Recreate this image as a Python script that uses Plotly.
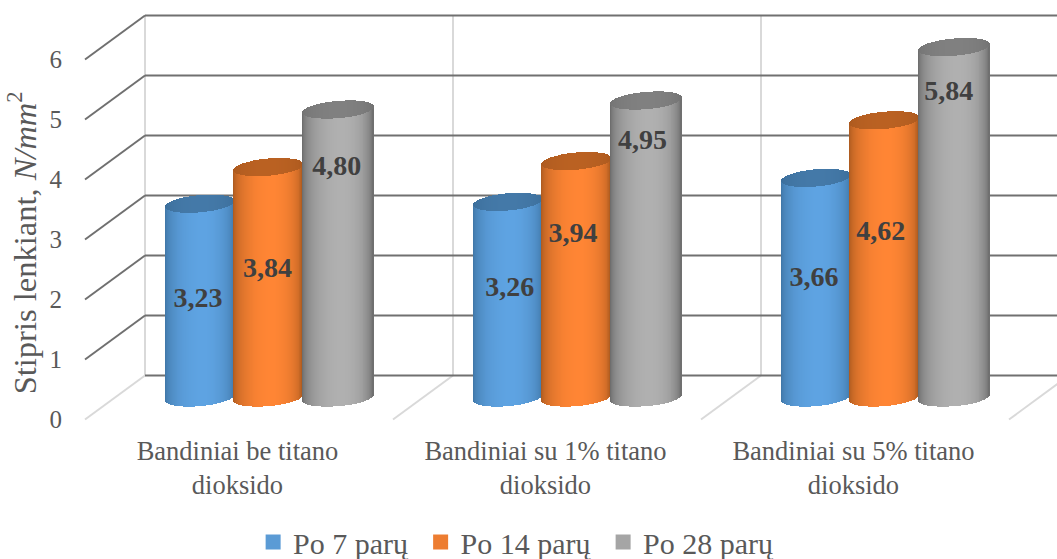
import numpy as np
import plotly.graph_objects as go

# Data
categories = ["Bandiniai be titano<br>dioksido", "Bandiniai su 1% titano<br>dioksido", "Bandiniai su 5% titano<br>dioksido"]
series_names = ["Po 7 parų\u00a0", "Po 14 parų\u00a0", "Po 28 parų"]
values_7 = [3.23, 3.26, 3.66]
values_14 = [3.84, 3.94, 4.62]
values_28 = [4.80, 4.95, 5.84]
y_ticks = [0, 1, 2, 3, 4, 5, 6]

# Heights at which the value labels sit, one list per series
label_heights_7 = [1.995, 2.18, 2.345]
label_heights_14 = [2.495, 3.08, 3.11]
label_heights_28 = [4.195, 4.63, 5.445]
label_shifts_7 = [-0.006, 0.006, -0.006]
label_shifts_14 = [-0.003, -0.011, -0.012]
label_shifts_28 = [-0.006, -0.013, -0.019]

# Scales: pixels per group and per value unit
PX_X = 308.0
PX_Y = 60.0
X_AT_85 = -0.495

# Depth of the box, in axis units
DEPTH_X = 60 / PX_X
DEPTH_Y = 44 / PX_Y
FLOOR = 22 / PX_Y          # level of the cylinder base centre

# Cylinder placement inside a group
OFFSETS = [-0.122, 0.1005, 0.328]
WIDTHS = [0.222, 0.224, 0.230]
ELLIPSE_H = 8.6 / PX_Y
TILT = 3.0 / PX_Y
STRIPS = 72

EDGE = [(60, 112, 158), (160, 84, 28), (98, 98, 98)]
PEAK = [(94, 163, 226), (255, 133, 52), (176, 176, 176)]
CAP_EDGE = [(58, 108, 152), (168, 88, 30), (112, 112, 112)]
CAP_MID = [(68, 121, 168), (186, 97, 34), (128, 128, 128)]
SWATCH = ["#5b9bd5", "#ed7d31", "#a5a5a5"]
FONT = "Liberation Serif"
TEXT = "#595959"


def mix(a, b, f):
    return "rgb(%d,%d,%d)" % tuple(round(a[i] + (b[i] - a[i]) * f) for i in range(3))


def shade(t, peak_at):
    """Cylinder shading from edge (0) to highlight (1) across the width."""
    d = (t - peak_at) / (1 - peak_at) if t > peak_at else (peak_at - t) / (1 + peak_at)
    return float(np.sqrt(max(0.0, 1 - d * d)))


fig = go.Figure()

all_values = [values_7, values_14, values_28]
all_heights = [label_heights_7, label_heights_14, label_heights_28]
all_shifts = [label_shifts_7, label_shifts_14, label_shifts_28]

for s, values in enumerate(all_values):
    w = WIDTHS[s]
    t = (np.arange(STRIPS) + 0.5) / STRIPS * 2 - 1
    round_part = ELLIPSE_H * np.sqrt(1 - t ** 2)
    tilt_part = TILT * t
    body_x, body_base, body_h, body_c = [], [], [], []
    cap_x, cap_base, cap_h, cap_c = [], [], [], []
    for g, v in enumerate(values):
        xs = g + OFFSETS[s] + t * w / 2
        base = FLOOR + tilt_part - round_part
        top = v + FLOOR + tilt_part - round_part
        body_x += list(xs)
        body_base += list(base)
        body_h += list(top - base)
        body_c += [mix(EDGE[s], PEAK[s], shade(tt, 0.1)) for tt in t]
        cap_x += list(xs)
        cap_base += list(top)
        cap_h += list(2 * round_part)
        cap_c += [mix(CAP_EDGE[s], CAP_MID[s], shade(tt, 0.0)) for tt in t]
    strip_w = w / STRIPS * 1.15
    fig.add_trace(go.Bar(x=body_x, y=body_h, base=body_base, width=strip_w,
                         marker=dict(color=body_c, line_width=0), showlegend=False, hoverinfo="skip"))
    fig.add_trace(go.Bar(x=cap_x, y=cap_h, base=cap_base, width=strip_w,
                         marker=dict(color=cap_c, line_width=0), showlegend=False, hoverinfo="skip"))

# Value labels
for s, values in enumerate(all_values):
    fig.add_trace(go.Scatter(
        x=[g + OFFSETS[s] + all_shifts[s][g] for g in range(len(values))],
        y=all_heights[s],
        mode="text",
        text=[f"{v:.2f}".replace(".", ",") for v in values],
        textposition="middle center",
        textfont=dict(family=FONT, size=28, color="#404040", weight="bold"),
        showlegend=False, hoverinfo="skip"))

# Legend entries
for s, name in enumerate(series_names):
    fig.add_trace(go.Scatter(x=[None], y=[None], mode="markers", name=name,
                             marker=dict(symbol="square", size=15, color=SWATCH[s])))

# Box of the chart: side wall, back wall and floor
DARK = dict(color="#707070", width=2)
LIGHT = dict(color="#d9d9d9", width=2)
shapes = []
left = X_AT_85
for g in range(4):
    shapes.append(dict(type="line", xref="x", yref="y", layer="below", line=LIGHT,
                       x0=left + g + DEPTH_X, y0=DEPTH_Y, x1=left + g + DEPTH_X, y1=6 + DEPTH_Y))
    if g:
        shapes.append(dict(type="line", xref="x", yref="y", layer="below", line=LIGHT,
                           x0=left + g, y0=0, x1=left + g + DEPTH_X, y1=DEPTH_Y))
for v in y_ticks:
    line = DARK if v > 0 else LIGHT
    shapes.append(dict(type="line", xref="x", yref="y", layer="below", line=line,
                       x0=left, y0=v, x1=left + DEPTH_X, y1=v + DEPTH_Y))
    shapes.append(dict(type="line", xref="x", yref="y", layer="below", line=DARK,
                       x0=left + DEPTH_X, y0=v + DEPTH_Y, x1=4, y1=v + DEPTH_Y))

M_L, M_T, M_B = 80, 5, 136

fig.update_layout(
    width=1057, height=559,
    margin=dict(l=M_L, r=0, t=M_T, b=M_B, autoexpand=False),
    paper_bgcolor="white", plot_bgcolor="white",
    barmode="overlay", bargap=0,
    shapes=shapes,
    showlegend=True,
    legend=dict(orientation="h", x=0.1772, xanchor="left", y=-0.2225, yanchor="top",
                font=dict(family=FONT, size=30, color=TEXT), itemwidth=30,
                bgcolor="rgba(0,0,0,0)"),
    xaxis=dict(range=[X_AT_85 - (85 - M_L) / PX_X, X_AT_85 + (1057 - 85) / PX_X],
               tickvals=[0, 1, 2], ticktext=categories,
               tickfont=dict(family=FONT, size=26.5, color=TEXT),
               showgrid=False, zeroline=False, showline=False,
               ticks="outside", ticklen=4, tickcolor="rgba(0,0,0,0)", tickangle=0),
    yaxis=dict(range=[-(559 - M_B - 419.5) / PX_Y, (419.5 - M_T) / PX_Y],
               tickvals=y_ticks, tickfont=dict(family=FONT, size=25, color=TEXT),
               showgrid=False, zeroline=False, showline=False,
               ticks="outside", ticklen=12, tickcolor="rgba(0,0,0,0)"),
    annotations=[dict(text="Stipris lenkiant, <i>N/mm</i><sup>2</sup>", xref="paper", yref="paper",
                      x=-0.0585, y=0.432, xanchor="center", yanchor="middle", textangle=-90, showarrow=False,
                      font=dict(family=FONT, size=32.5, color=TEXT))],
)

fig.write_html("out.html")
